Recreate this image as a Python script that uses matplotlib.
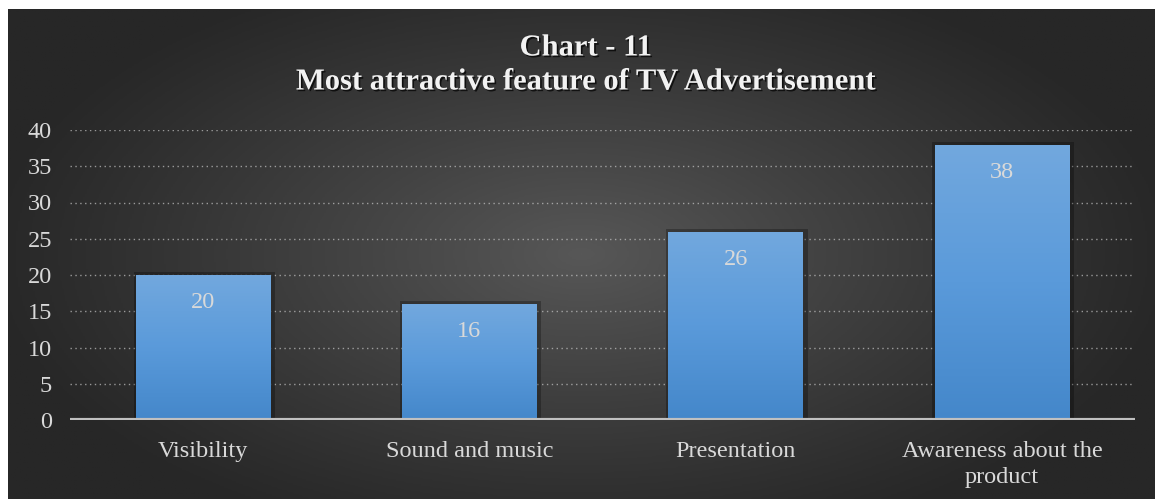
import numpy as np
import matplotlib
matplotlib.use("Agg")
import matplotlib.pyplot as plt
import matplotlib.patheffects as pe
from matplotlib.colors import LinearSegmentedColormap

# Survey results
categories = ["Visibility", "Sound and music", "Presentation", "Awareness about the\nproduct"]
values = [20, 16, 26, 38]
yticks = [0, 5, 10, 15, 20, 25, 30, 35, 40]
title_line1 = "Chart - 11"
title_line2 = "Most attractive feature of TV Advertisement"

W, H = 1155, 499
fig = plt.figure(figsize=(W / 100, H / 100), dpi=100, facecolor="white")

serif = ["Liberation Serif", "DejaVu Serif"]
text_col = "#d9d9d9"

# Dark panel with a soft radial glow in the middle
bg = fig.add_axes([8 / W, 0, 1 - 8 / W, (H - 9) / H])
bg.set_axis_off()
xx, yy = np.meshgrid(np.linspace(-1, 1, 600), np.linspace(-1, 1, 300))
r = np.sqrt((xx / 1.05) ** 2 + (yy / 1.25) ** 2)
shade = np.clip(1 - r, 0, 1) ** 1.1
bg_cmap = LinearSegmentedColormap.from_list("panel", ["#272727", "#575757"])
bg.imshow(shade, cmap=bg_cmap, aspect="auto", extent=[0, 1, 0, 1], vmin=0, vmax=1)
bg.set_xlim(0, 1)
bg.set_ylim(0, 1)

ax = fig.add_axes([70 / W, (H - 420) / H, (1135 - 70) / W, (420 - 130) / H])
ax.patch.set_alpha(0)
for s in ax.spines.values():
    s.set_visible(False)

x = np.arange(len(categories))

# Dotted horizontal gridlines
for t in yticks[1:]:
    ax.axhline(t, color="#c8c8c8", lw=1.0, ls=(0, (1, 2.5)), alpha=0.7, zorder=1)

bar_cmap = LinearSegmentedColormap.from_list("bar", ["#4487ca", "#5a9ada", "#72a8de"])
grad = np.linspace(0, 1, 256).reshape(-1, 1)
bars = ax.bar(x, values, width=0.505, color="#5b9bd5", linewidth=0, zorder=3)
for b in bars:
    bx, by = b.get_x(), b.get_y()
    bw, bh = b.get_width(), b.get_height()
    b.set_edgecolor("#5b9bd5")
    b.set_path_effects([pe.SimpleLineShadow(offset=(0.5, 0), shadow_color="black",
                                            alpha=0.28, linewidth=5),
                        pe.Normal()])
    im = ax.imshow(grad, cmap=bar_cmap, origin="lower", aspect="auto",
                   extent=[bx, bx + bw, by, by + bh], zorder=4)
    im.set_clip_path(b)

for xi, v in zip(x, values):
    ax.annotate(str(v), (xi, v), xytext=(0, -20), textcoords="offset points",
                ha="center", va="center", color=text_col, fontsize=17.5,
                family=serif, zorder=6)

# Baseline
ax.axhline(0, color="#c0c0c0", lw=3, zorder=5)

ax.set_xticks(x)
ax.set_xticklabels(categories, fontsize=17.5, color=text_col, family=serif,
                   linespacing=1.3)
ax.set_yticks(yticks)
ax.set_yticklabels([str(t) for t in yticks], fontsize=17.5, color=text_col, family=serif)
ax.tick_params(axis="x", length=0, pad=15)
ax.tick_params(axis="y", length=0, pad=13)
ax.set_xlim(-0.5, len(categories) - 0.5)
ax.set_ylim(0, 40)

shadow = [pe.withSimplePatchShadow(offset=(1.2, -1.2), shadow_rgbFace="black", alpha=0.7)]
fig.text(586 / W, 1 - 48 / H, title_line1, ha="center", va="center", fontsize=22,
         fontweight="bold", color="#f2f2f2", family=serif, path_effects=shadow)
fig.text(586 / W, 1 - 82 / H, title_line2, ha="center", va="center", fontsize=22,
         fontweight="bold", color="#f2f2f2", family=serif, path_effects=shadow)

fig.savefig("out.png", dpi=100, facecolor="white")
